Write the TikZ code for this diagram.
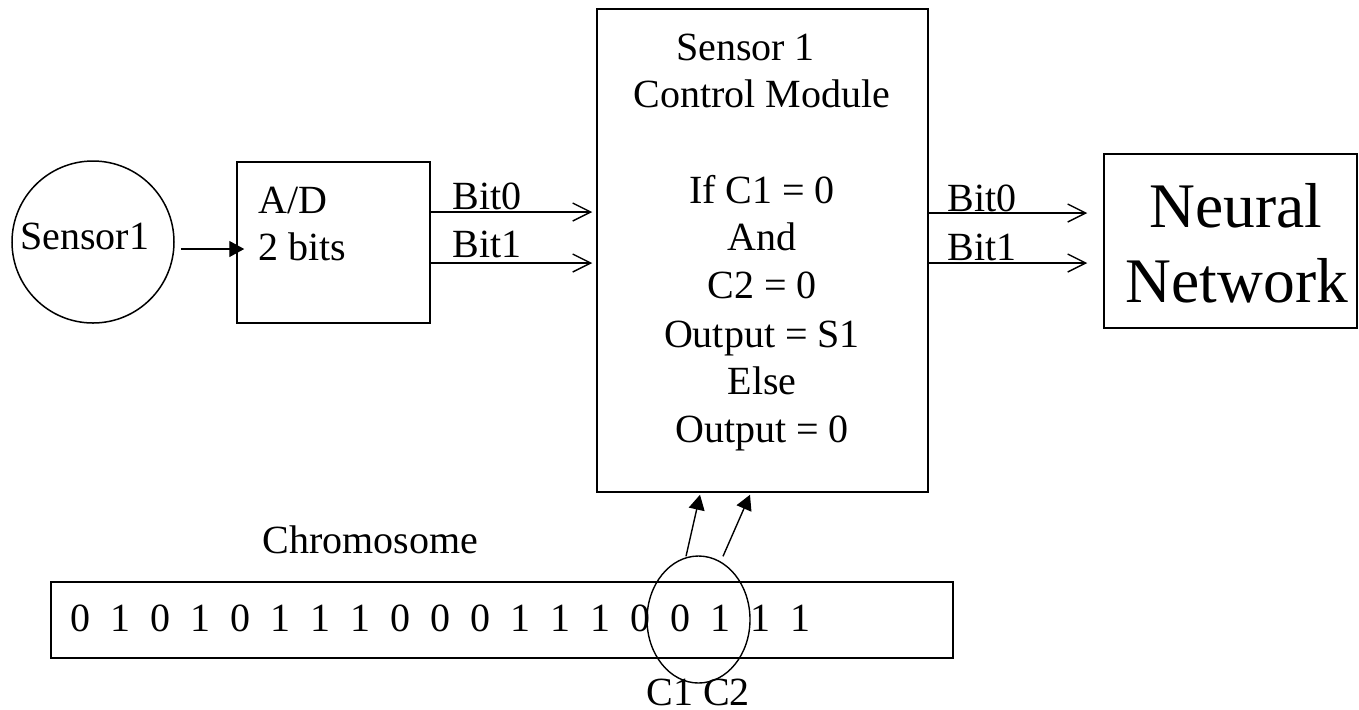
\documentclass[tikz,border=0pt]{standalone}
\usepackage{fontspec}
\setmainfont{Liberation Serif}
\usetikzlibrary{arrows.meta,shapes.geometric,calc}
\tikzset{
  txt/.style={font=\fontsize{20pt}{24pt}\selectfont, inner sep=0pt},
  big/.style={font=\fontsize{31.75pt}{37.5pt}\selectfont, inner sep=0pt},
  boxx/.style={draw, line width=0.75pt, rectangle, inner sep=0pt},
  fillarrow/.style={line width=0.7pt, -{Triangle[length=7.5pt,width=8pt]}},
  openarrow/.style={line width=0.7pt, -{Straight Barb[length=9pt,width=9pt,line width=0.7pt]}}
}
\begin{document}
\begin{tikzpicture}[x=0.5pt,y=-0.5pt]
\useasboundingbox (0,0) rectangle (1359,709);
% sensor circle
\node[draw, circle, line width=0.75pt, minimum size=81pt, inner sep=0pt] (sensor) at (93,242) {};
\node[txt, anchor=base west] (sensortext) at (20,249) {Sensor1};
% A/D box
\node[boxx, minimum width=96.5pt, minimum height=80.5pt] (ad) at (333.5,242.5) {};
\node[txt, anchor=base west] (adtext1) at (258,213) {A/D};
\node[txt, anchor=base west] (adtext2) at (258,260) {2 bits};
\draw[fillarrow] ($(sensor.east)+(6,7)$) -- ($(ad.west)+(8,6.5)$);
% main control box
\node[boxx, minimum width=165.5pt, minimum height=241.5pt] (main) at (762.5,250.5) {};
\node[txt, anchor=base] (m1) at (745.5,60) {Sensor 1};
\node[txt, anchor=base] (m2) at (762,107) {Control Module};
\node[txt, anchor=base] (m3) at (762,203) {If C1 = 0};
\node[txt, anchor=base] (m4) at (762,250) {And};
\node[txt, anchor=base] (m5) at (762,298) {C2 = 0};
\node[txt, anchor=base] (m6) at (762,347) {Output = S1};
\node[txt, anchor=base] (m7) at (762,394) {Else};
\node[txt, anchor=base] (m8) at (762,442) {Output = 0};
% A/D -> main
\draw[openarrow, shorten >=2pt] (ad.east |- 0,212) -- (main.west |- 0,212);
\draw[openarrow, shorten >=2pt] (ad.east |- 0,263) -- (main.west |- 0,263);
\node[txt, anchor=base west] (lb0) at (452,209) {Bit0};
\node[txt, anchor=base west] (lb1) at (452,257) {Bit1};
% neural network
\node[boxx, minimum width=126.5pt, minimum height=87pt] (nn) at (1230.5,241) {};
\node[big, anchor=base] (nn1) at (1236,227) {Neural};
\node[big, anchor=base] (nn2) at (1237,302) {Network};
\draw[openarrow, shorten >=8pt] (main.east |- 0,213) -- (nn.west |- 0,213);
\draw[openarrow, shorten >=8pt] (main.east |- 0,263) -- (nn.west |- 0,263);
\node[txt, anchor=base west] (rb0) at (947,211) {Bit0};
\node[txt, anchor=base west] (rb1) at (947,260) {Bit1};
% chromosome
\node[txt, anchor=base west] (chromlabel) at (262,553) {Chromosome};
\node[boxx, minimum width=451pt, minimum height=38pt] (chrom) at (502,620) {};
\foreach \d [count=\i from 0] in {0,1,0,1,0,1,1,1,0,0,0,1,1,1,0,0,1,1,1}
  \node[txt, anchor=base] (d\i) at (80+40*\i,631) {\d};
\node[draw, ellipse, line width=0.7pt, minimum width=51.5pt, minimum height=63.5pt, inner sep=0pt] (sel) at (698.5,619.5) {};
\node[txt, anchor=base] (cc) at (698,705) {C1 C2};
\draw[fillarrow] ($(sel.north)+(-12.5,1)$) -- ($(main.south)+(-62.5,2)$);
\draw[fillarrow] ($(sel.north)+(24.5,1)$) -- ($(main.south)+(-12.5,2)$);
\end{tikzpicture}
\end{document}
